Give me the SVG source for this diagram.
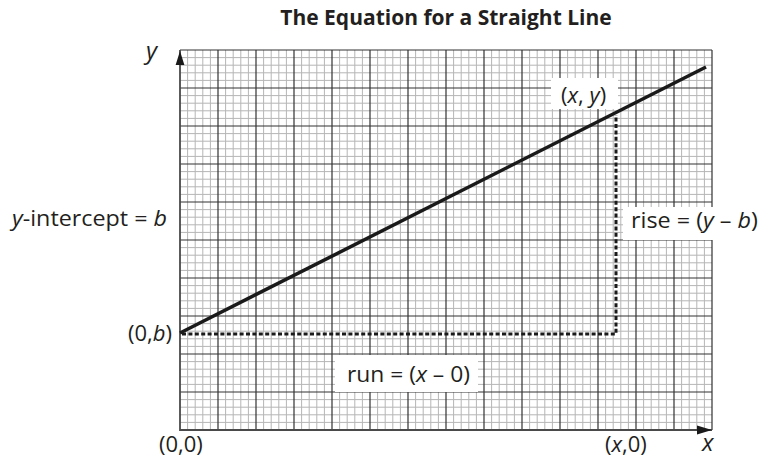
<svg xmlns="http://www.w3.org/2000/svg" width="762" height="458" viewBox="0 0 762 458">
<style>
  .lbl { font-family: "Open Sans", "Liberation Sans", sans-serif; font-size: 22px; fill: #231f20; }
  .it { font-style: italic; }
  .axl { font-size: 24px; }
  .title { font-family: "Open Sans", "Liberation Sans", sans-serif; font-size: 21px; font-weight: bold; fill: #231f20; }
  .minor { stroke: #b5b5b5; stroke-width: 1; fill: none; }
  .major { stroke: #333333; stroke-width: 1.2; fill: none; }
  .axis { stroke: #4a4a4a; stroke-width: 1.8; fill: none; }
  .box { fill: #ffffff; stroke: none; }
  .main { stroke: #1a1a1a; stroke-width: 3.5; fill: none; }
  .dots { stroke: #1a1a1a; stroke-width: 3; fill: none; stroke-dasharray: 4 2.4; }
  .head { fill: #1a1a1a; }
</style>
<defs>
  <pattern id="minorGrid" patternUnits="userSpaceOnUse" x="180" y="50" width="38" height="38">
    <path class="minor" d="M7.6,0V38M15.2,0V38M22.8,0V38M30.4,0V38M0,7.6H38M0,15.2H38M0,22.8H38M0,30.4H38"/>
  </pattern>
</defs>

<text class="title" x="446" y="25" text-anchor="middle">The Equation for a Straight Line</text>

<g id="grid">
  <rect x="180" y="50" width="532" height="380" fill="url(#minorGrid)"/>
  <path class="major" d="M218,50V430M256,50V430M294,50V430M332,50V430M370,50V430M408,50V430M446,50V430M484,50V430M522,50V430M560,50V430M598,50V430M636,50V430M674,50V430M712,50V430
    M180,50H712M180,88H712M180,126H712M180,164H712M180,202H712M180,240H712M180,278H712M180,316H712M180,354H712M180,392H712"/>
  <path class="axis" d="M180,50V430H712"/>
</g>

<g id="axes">
  <polygon class="head" points="180,51 175.6,65 184.4,65"/>
  <polygon class="head" points="712,430 697,425.6 697,434.4"/>
  <text class="lbl it axl" x="146" y="59">y</text>
  <text class="lbl it axl" x="702" y="451">x</text>
</g>

<g id="label-xy">
  <rect class="box" x="551" y="78" width="67" height="31"/>
  <text class="lbl" x="561" y="103">(<tspan class="it">x</tspan>, <tspan class="it">y</tspan>)</text>
</g>

<g id="label-rise">
  <rect class="box" x="623" y="207" width="139" height="33"/>
  <text class="lbl" x="631" y="228" textLength="127" lengthAdjust="spacingAndGlyphs">rise = (<tspan class="it">y</tspan> – <tspan class="it">b</tspan>)</text>
</g>

<g id="label-run">
  <rect class="box" x="335" y="355" width="143" height="37"/>
  <text class="lbl" x="347" y="382" textLength="123" lengthAdjust="spacingAndGlyphs">run = (<tspan class="it">x</tspan> – 0)</text>
</g>

<g id="label-intercept">
  <text class="lbl" x="12" y="226" textLength="155" lengthAdjust="spacingAndGlyphs"><tspan class="it">y</tspan>-intercept = <tspan class="it">b</tspan></text>
</g>

<g id="label-0b">
  <text class="lbl" x="128" y="341">(0,<tspan class="it">b</tspan>)</text>
</g>

<g id="label-00">
  <text class="lbl" x="159" y="452">(0,0)</text>
</g>

<g id="label-x0">
  <text class="lbl" x="605" y="452">(<tspan class="it">x</tspan>,0)</text>
</g>

<g id="connectors">
  <path class="dots" d="M182,334H616V115"/>
  <line class="main" x1="180" y1="333" x2="706" y2="67"/>
</g>
</svg>
